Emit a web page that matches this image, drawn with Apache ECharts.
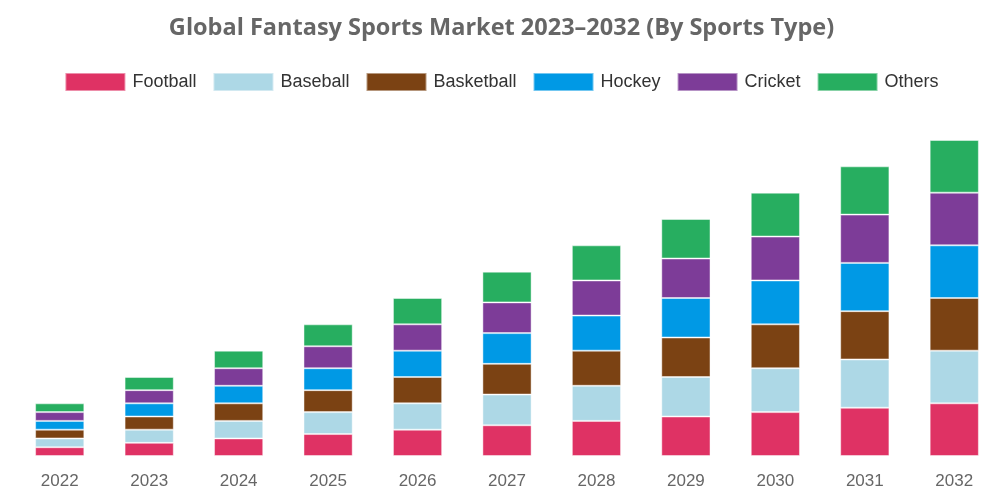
<!DOCTYPE html>
<html>
<head>
<meta charset="utf-8">
<script src="https://cdn.jsdelivr.net/npm/echarts@6/dist/echarts.min.js"></script>
<style>
  html, body { margin: 0; padding: 0; background: #fff; }
  #main { width: 1003px; height: 501px; }
</style>
</head>
<body>
<div id="main"></div>
<script>
// data (all six segments per year look equal)
var years = ["2022", "2023", "2024", "2025", "2026", "2027", "2028", "2029", "2030", "2031", "2032"];
var football = [2, 3, 4, 5, 6, 7, 8, 9, 10, 11, 12];
var baseball = [2, 3, 4, 5, 6, 7, 8, 9, 10, 11, 12];
var basketball = [2, 3, 4, 5, 6, 7, 8, 9, 10, 11, 12];
var hockey = [2, 3, 4, 5, 6, 7, 8, 9, 10, 11, 12];
var cricket = [2, 3, 4, 5, 6, 7, 8, 9, 10, 11, 12];
var others = [2, 3, 4, 5, 6, 7, 8, 9, 10, 11, 12];

var seriesNames = ["Football", "Baseball", "Basketball", "Hockey", "Cricket", "Others"];
var seriesData = [football, baseball, basketball, hockey, cricket, others];
var colors = ["#df3264", "#add8e6", "#7b4213", "#0099e5", "#7d3c98", "#27ae60"];

var myChart = echarts.init(document.getElementById("main"));

var option = {
  backgroundColor: "#fff",
  color: colors,
  title: {
    text: "Global Fantasy Sports Market 2023\u20132032 (By Sports Type)",
    left: "center",
    top: 11,
    textStyle: {
      fontFamily: "Open Sans",
      fontWeight: "bold",
      fontSize: 23.5,
      color: "#666"
    }
  },
  legend: {
    top: 67,
    left: "center",
    itemWidth: 60,
    itemHeight: 18,
    itemGap: 16,
    icon: "rect",
    textStyle: {
      fontFamily: "Liberation Sans",
      fontSize: 18,
      color: "#333",
      padding: [0, 0, 0, 2]
    },
    data: seriesNames
  },
  grid: {
    left: 15,
    right: 4,
    top: 140,
    bottom: 45,
    containLabel: false
  },
  xAxis: {
    type: "category",
    data: years,
    axisLine: { show: false },
    axisTick: { show: false },
    axisLabel: {
      margin: 17,
      fontFamily: "Liberation Sans",
      fontSize: 17,
      color: "#666"
    }
  },
  yAxis: {
    type: "value",
    min: 0,
    max: 72,
    show: false
  },
  series: seriesNames.map(function (name, i) {
    return {
      name: name,
      type: "bar",
      stack: "total",
      barWidth: "55%",
      data: seriesData[i],
      itemStyle: {
        borderColor: "rgba(255,255,255,0.45)",
        borderWidth: 1
      }
    };
  })
};

myChart.setOption(option);
</script>
</body>
</html>
